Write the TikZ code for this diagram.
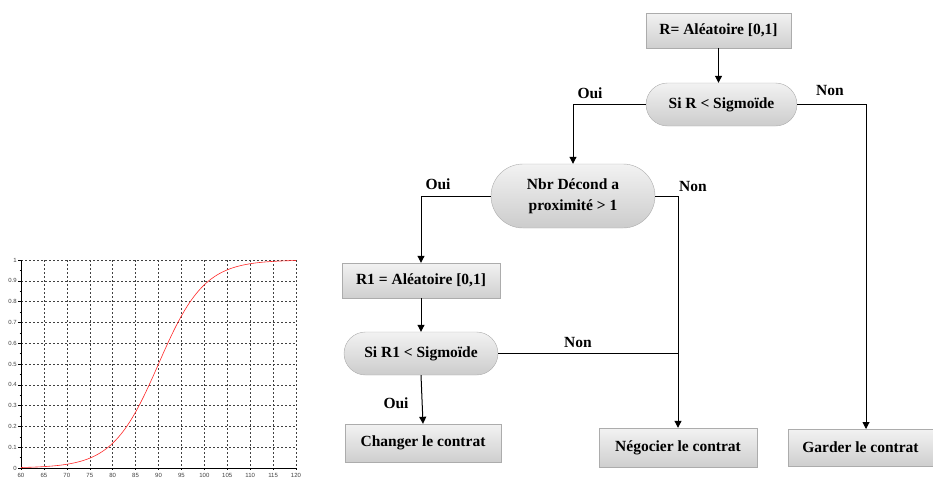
\documentclass[tikz,border=0pt]{standalone}
\usepackage{fontspec}
\setmainfont{Liberation Serif}
\newfontfamily\chartfont{Liberation Sans}
\usetikzlibrary{shapes.misc,arrows.meta,calc}
\begin{document}
\begin{tikzpicture}[x=1pt,y=-1pt,
  txt/.style={font=\bfseries\fontsize{15.5}{21}\selectfont},
  procbox/.style={rectangle, draw=gray!65, top color=gray!10, bottom color=gray!38, txt, inner sep=0pt},
  decbox/.style={rounded rectangle, draw=gray!65, top color=gray!10, bottom color=gray!40, txt, inner sep=0pt},
  arr/.style={draw=black, line width=1pt, -{Triangle[length=7pt,width=7pt]}},
  conn/.style={draw=black, line width=1pt},
  lbl/.style={txt, inner sep=0pt},
  grid/.style={draw=black!75, line width=0.4pt, dash pattern=on 2pt off 2pt},
  tick/.style={font=\chartfont\fontsize{6}{7}\selectfont, inner sep=0pt, text=black!75}
]
\useasboundingbox (0,0) rectangle (933,479);

% ---------- chart ----------
\foreach \v in {65,70,...,120} \draw[grid] ({21+4.5833*(\v-60)},260) -- ({21+4.5833*(\v-60)},468);
\foreach \p in {1,...,10} \draw[grid] (21,{468-20.8*\p}) -- (296,{468-20.8*\p});
\draw[black, line width=0.5pt] (21,260) -- (21,468) -- (296,468);
\foreach \p in {0,...,10} {
  \draw[black, line width=0.4pt] (18,{468-20.8*\p}) -- (21,{468-20.8*\p});
  \node[tick, anchor=east] (yl\p) at (17,{468-20.8*\p}) {\ifnum\p=10 1\else\ifnum\p=0 0\else 0.\p\fi\fi};
}
\foreach \p in {0,...,9} \draw[black, line width=0.3pt] (19.5,{468-20.8*\p-10.4}) -- (21,{468-20.8*\p-10.4});
\foreach \v in {60,65,...,120} {
  \draw[black, line width=0.4pt] ({21+4.5833*(\v-60)},468) -- ({21+4.5833*(\v-60)},470);
  \node[tick, anchor=north] (xl\v) at ({21+4.5833*(\v-60)},473) {\v};
}
\draw[red!85, line width=0.6pt] plot[domain=60:120, samples=150, smooth]
  ({21+4.5833*(\x-60)}, {468-208/(1+exp(-(\x-90)/5))});

% ---------- flowchart ----------
\node[procbox, minimum width=145, minimum height=35] (r) at (718.5,30.5) {R= Aléatoire [0,1]};
\node[decbox, minimum width=151, minimum height=43] (sir) at (721.5,104.5) {Si R < Sigmoïde};
\node[decbox, minimum width=164, minimum height=64, align=center] (nbr) at (573,196) {Nbr Décond a\\proximité > 1};
\node[procbox, minimum width=158, minimum height=35] (r1) at (421,280.5) {R1 = Aléatoire [0,1]};
\node[decbox, minimum width=154, minimum height=43] (sir1) at (421,353.5) {Si R1 < Sigmoïde};
\node[procbox, minimum width=156, minimum height=38] (chg) at (423,443) {Changer le contrat};
\node[procbox, minimum width=158, minimum height=39] (neg) at (678,447.5) {Négocier le contrat};
\node[procbox, minimum width=145, minimum height=37] (gar) at (860.5,447.5) {Garder le contrat};

\coordinate (gin) at (866,429);
\coordinate (junc) at (sir1.east -| neg.north);

\draw[arr] (r.south) -- (r.south |- sir.north);
\draw[arr] (sir.west) -| (nbr.north);
\draw[arr] (sir.east) -| (gin);
\draw[arr] (nbr.west) -| (r1.north);
\draw[arr] (nbr.east) -| (neg.north);
\draw[arr] (r1.south) -- (sir1.north);
\draw[conn] (sir1.east) -- (junc);
\draw[arr] (sir1.south) -- (chg.north);

\node[lbl] (l1) at (590,93) {Oui};
\node[lbl] (l2) at (830,90) {Non};
\node[lbl] (l3) at (438,184) {Oui};
\node[lbl] (l4) at (693,186) {Non};
\node[lbl] (l5) at (578,342) {Non};
\node[lbl] (l6) at (396,403) {Oui};
\end{tikzpicture}
\end{document}
